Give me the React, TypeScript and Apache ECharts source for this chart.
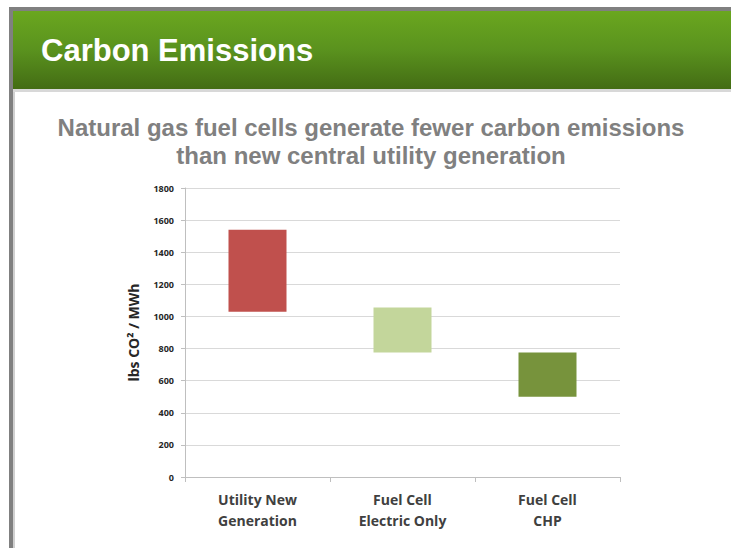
import React, { useEffect, useRef } from "react";
import * as echarts from "echarts";

const categories = ["Utility New\nGeneration", "Fuel Cell\nElectric Only", "Fuel Cell\nCHP"];
const lowValues = [1030, 775, 500];
const highValues = [1540, 1055, 775];
const barColors = ["#c0504d", "#c3d69b", "#77933c"];
const yTicks = { min: 0, max: 1800, interval: 200 };

export default function App() {
  const ref = useRef<HTMLDivElement>(null);
  useEffect(() => {
    if (!ref.current) return;
    const chart = echarts.init(ref.current, null, { renderer: "svg" });
    const spans = highValues.map((h, i) => h - lowValues[i]);
    chart.setOption({
      animation: false,
      backgroundColor: "#ffffff",
      grid: { left: 185, right: 111, top: 188, bottom: 71 },
      graphic: [
        { type: "rect", shape: { x: 9, y: 7, width: 722, height: 4 }, style: { fill: "#808080" } },
        { type: "rect", shape: { x: 9, y: 7, width: 4, height: 541 }, style: { fill: "#808080" } },
        { type: "rect", shape: { x: 13, y: 11, width: 2, height: 537 }, style: { fill: "#d0d0d0" } },
        {
          type: "rect",
          shape: { x: 13, y: 11, width: 718, height: 78 },
          style: {
            fill: new echarts.graphic.LinearGradient(0, 0, 0, 1, [
              { offset: 0, color: "#6aa71f" },
              { offset: 0.5, color: "#5a921e" },
              { offset: 1, color: "#436c14" },
            ]),
          },
        },
        { type: "rect", shape: { x: 13, y: 89, width: 718, height: 3 }, style: { fill: "#d8d8d8" } },
        {
          type: "text",
          x: 41,
          y: 50,
          style: {
            text: "Carbon Emissions",
            fill: "#ffffff",
            font: "bold 31px 'Liberation Sans', Arial, sans-serif",
            textVerticalAlign: "middle",
          },
        },
        {
          type: "text",
          x: 371,
          y: 141,
          style: {
            text: "Natural gas fuel cells generate fewer carbon emissions\nthan new central utility generation",
            fill: "#808080",
            font: "bold 24px 'Liberation Sans', Arial, sans-serif",
            lineHeight: 28,
            textAlign: "center",
            textVerticalAlign: "middle",
          },
        },
      ],
      xAxis: {
        type: "category",
        data: categories,
        axisLine: { lineStyle: { color: "#bfbfbf" } },
        axisTick: { show: true, lineStyle: { color: "#bfbfbf" }, length: 5 },
        axisLabel: {
          color: "#404040",
          fontWeight: "bold",
          fontSize: 14,
          fontFamily: "'Open Sans', sans-serif",
          lineHeight: 21,
          margin: 12,
        },
      },
      yAxis: {
        type: "value",
        min: yTicks.min,
        max: yTicks.max,
        interval: yTicks.interval,
        name: "lbs CO² / MWh",
        nameLocation: "middle",
        nameRotate: 90,
        nameGap: 45,
        nameTextStyle: {
          color: "#262626",
          fontWeight: "bold",
          fontSize: 14,
          fontFamily: "'Open Sans', sans-serif",
        },
        axisLine: { show: true, lineStyle: { color: "#bfbfbf" } },
        axisTick: { show: true, length: 4, lineStyle: { color: "#bfbfbf" } },
        splitLine: { lineStyle: { color: "#d9d9d9", width: 1 } },
        axisLabel: {
          color: "#262626",
          fontWeight: "bold",
          fontSize: 9,
          fontFamily: "'Open Sans', sans-serif",
          margin: 11,
          formatter: (v: number) => String(v),
        },
      },
      series: [
        {
          type: "bar",
          stack: "range",
          data: lowValues,
          itemStyle: { color: "transparent" },
          barWidth: "40%",
          silent: true,
        },
        {
          type: "bar",
          stack: "range",
          data: spans.map((v, i) => ({ value: v, itemStyle: { color: barColors[i] } })),
          barWidth: "40%",
        },
      ],
    });
    return () => chart.dispose();
  }, []);
  return (
    <div
      ref={ref}
      style={{ position: "fixed", left: 0, top: 0, width: 731, height: 548 }}
    />
  );
}
